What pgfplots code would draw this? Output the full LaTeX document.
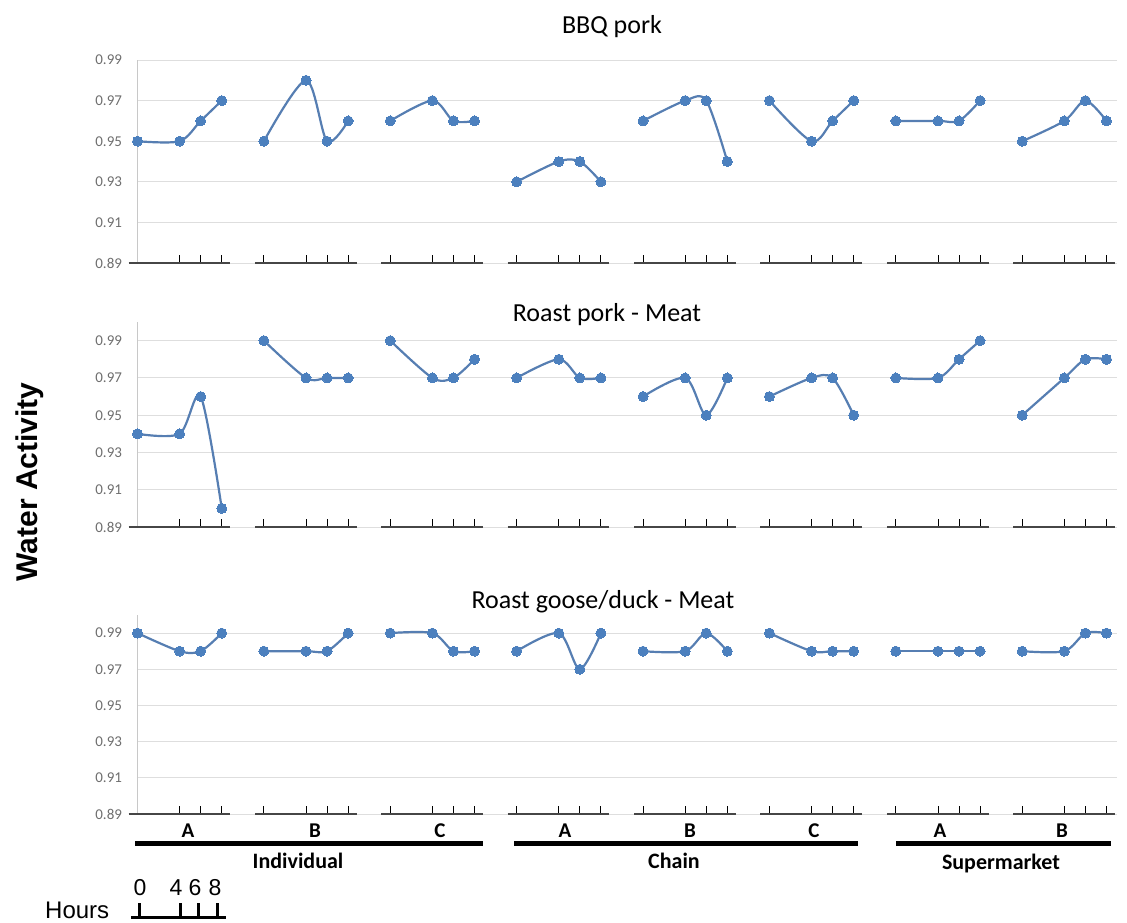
\documentclass[border=0pt]{standalone}
\usepackage{fontspec}
\setmainfont{Carlito}
\newfontfamily\arialf{Liberation Sans}
\usepackage{pgfplots}
\usepackage{pgfplotstable}
\pgfplotsset{compat=1.18}
\definecolor{serc}{RGB}{76,128,190}
\definecolor{linec}{RGB}{86,126,178}
\definecolor{gridc}{RGB}{222,222,222}
\definecolor{axc}{RGB}{200,200,200}
\definecolor{labc}{RGB}{110,110,110}
\definecolor{basec}{RGB}{70,70,70}

% hours 0,4,6,8 ; g1..g8 = Individual A,B,C ; Chain A,B,C ; Supermarket A,B
\pgfplotstableread{
h g1 g2 g3 g4 g5 g6 g7 g8
0 0.95 0.95 0.96 0.93 0.96 0.97 0.96 0.95
4 0.95 0.98 0.97 0.94 0.97 0.95 0.96 0.96
6 0.96 0.95 0.96 0.94 0.97 0.96 0.96 0.97
8 0.97 0.96 0.96 0.93 0.94 0.97 0.97 0.96
}\bbq
\pgfplotstableread{
h g1 g2 g3 g4 g5 g6 g7 g8
0 0.94 0.99 0.99 0.97 0.96 0.96 0.97 0.95
4 0.94 0.97 0.97 0.98 0.97 0.97 0.97 0.97
6 0.96 0.97 0.97 0.97 0.95 0.97 0.98 0.98
8 0.90 0.97 0.98 0.97 0.97 0.95 0.99 0.98
}\roastpork
\pgfplotstableread{
h g1 g2 g3 g4 g5 g6 g7 g8
0 0.99 0.98 0.99 0.98 0.98 0.99 0.98 0.98
4 0.98 0.98 0.99 0.99 0.98 0.98 0.98 0.98
6 0.98 0.98 0.98 0.97 0.99 0.98 0.98 0.99
8 0.99 0.99 0.98 0.99 0.98 0.98 0.98 0.99
}\goose

\pgfplotsset{
  panel/.style={
    scale only axis, width=979.5pt, xmin=0, xmax=93, ymin=0.89,
    clip=false,
    axis lines*=left,
    x axis line style={draw=none},
    y axis line style={draw=axc, line width=1pt},
    xtick={0,4,6,8,12,16,18,20,24,28,30,32,36,40,42,44,48,52,54,56,60,64,66,68,72,76,78,80,84,88,90,92},
    xticklabels={},
    tick align=inside, major tick length=8pt,
    xtick style={draw=black, line width=0.9pt},
    ytick={0.89,0.91,0.93,0.95,0.97,0.99},
    ytick style={draw=none},
    ymajorgrids,
    major grid style={draw=gridc, line width=0.9pt},
    yticklabel style={font=\fontsize{15}{15}\selectfont, text=labc, anchor=east, xshift=-12pt},
    /pgf/number format/fixed,
    /pgf/number format/fixed zerofill,
    /pgf/number format/precision=2,
    /pgf/number format/assume math mode=true,
  },
  serline/.style={draw=linec, line width=2.2pt, smooth, tension=0.5, mark=*, mark size=5pt,
    mark options={fill=serc, draw=serc, line width=0pt}},
  baseseg/.style={draw=basec, line width=1.3pt, mark=none, unbounded coords=jump},
}

\newcommand{\basesegs}{\addplot[baseseg] coordinates {(-0.85,0.89)(8.8,0.89)(10,nan)(11.15,0.89)(20.8,0.89)(22,nan)(23.15,0.89)(32.8,0.89)(34,nan)(35.15,0.89)(44.8,0.89)(46,nan)(47.15,0.89)(56.8,0.89)(58,nan)(59.15,0.89)(68.8,0.89)(70,nan)(71.15,0.89)(80.8,0.89)(82,nan)(83.15,0.89)(92.8,0.89)};}

\begin{document}
\begin{tikzpicture}
\path[use as bounding box] (0pt,0pt) rectangle (1127pt,-922pt);

% Panel 1
\begin{axis}[panel, at={(137.5pt,-263pt)}, anchor=south west, height=203pt, ymax=0.99]
\basesegs
\pgfplotsinvokeforeach{1,...,8}{
  \addplot[serline] table[x expr={\thisrow{h}+12*(#1-1)}, y=g#1]{\bbq};
}
\end{axis}

% Panel 2
\begin{axis}[panel, at={(137.5pt,-527pt)}, anchor=south west, height=205pt, ymax=1.0]
\basesegs
\pgfplotsinvokeforeach{1,...,8}{
  \addplot[serline] table[x expr={\thisrow{h}+12*(#1-1)}, y=g#1]{\roastpork};
}
\end{axis}

% Panel 3
\begin{axis}[panel, at={(137.5pt,-814pt)}, anchor=south west, height=199pt, ymax=1.0]
\basesegs
\pgfplotsinvokeforeach{1,...,8}{
  \addplot[serline] table[x expr={\thisrow{h}+12*(#1-1)}, y=g#1]{\goose};
}
\end{axis}

\begin{scope}[x=1pt,y=1pt]
% titles
\node[anchor=base, font=\fontsize{26}{26}\selectfont] at (612,-33) {BBQ pork};
\node[anchor=base, font=\fontsize{26}{26}\selectfont] at (607,-321) {Roast pork - Meat};
\node[anchor=base, font=\fontsize{26}{26}\selectfont] at (603,-608) {Roast goose/duck - Meat};
% y label
\node[rotate=90, font=\arialf\bfseries\fontsize{30}{30}\selectfont] at (30,-482) {Water Activity};
% group letters
\foreach \xx/\lab in {188/A,315/B,440/C,565/A,690/B,814/C,940/A,1062/B}{
  \node[anchor=base, font=\bfseries\fontsize{21}{21}\selectfont] at (\xx,-837) {\lab};
}
% bars
\draw[line width=5pt] (135,-843.5) -- (483,-843.5);
\draw[line width=5pt] (514,-843.5) -- (858,-843.5);
\draw[line width=5pt] (896,-843.5) -- (1111,-843.5);
\node[anchor=base, font=\bfseries\fontsize{22}{22}\selectfont] at (298,-868) {Individual};
\node[anchor=base, font=\bfseries\fontsize{22}{22}\selectfont] at (674,-868) {Chain};
\node[anchor=base, font=\bfseries\fontsize{22}{22}\selectfont] at (1001,-869) {Supermarket};
% hours key
\node[anchor=base west, inner sep=0pt, font=\arialf\fontsize{24}{24}\selectfont] at (45,-918) {Hours};
\foreach \xx/\lab in {140/0,176/4,195/6,215/8}{
  \node[anchor=base, inner sep=0pt, font=\arialf\fontsize{23}{23}\selectfont] at (\xx,-895) {\lab};
}
\foreach \xx in {139,180,198,217}{
  \draw[line width=3pt] (\xx,-917) -- (\xx,-903);
}
\draw[line width=3pt] (131,-917) -- (226,-917);
\end{scope}
\end{tikzpicture}
\end{document}
